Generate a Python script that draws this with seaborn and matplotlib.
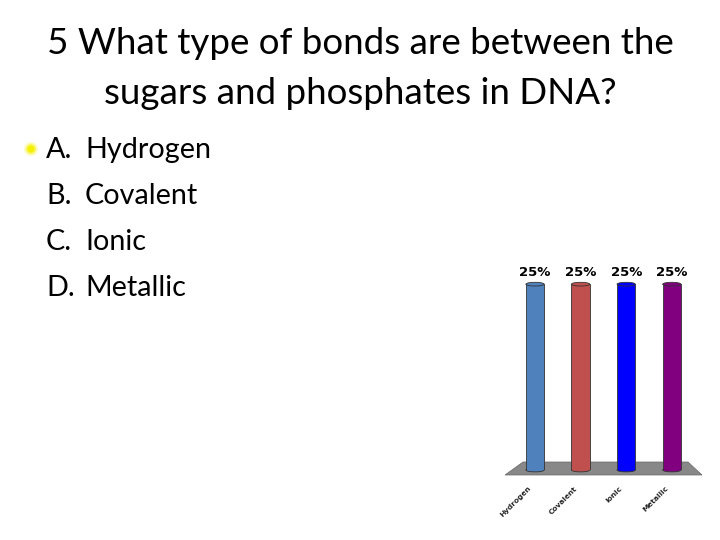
import matplotlib
matplotlib.use("Agg")
import matplotlib.pyplot as plt
import matplotlib.transforms as mtransforms
import seaborn as sns
import pandas as pd
from matplotlib.patches import Polygon, Ellipse

# ---- data ----
categories = ["Hydrogen", "Covalent", "Ionic", "Metallic"]
percentages = [25, 25, 25, 25]
bar_colors = ["#4F81BD", "#C0504D", "#0000FF", "#800080"]
title_lines = ["5 What type of bonds are between the", "sugars and phosphates in DNA?"]
option_letters = ["A.", "B.", "C.", "D."]
option_texts = ["Hydrogen", "Covalent", "Ionic", "Metallic"]

sns.set_theme(style="white")
plt.rcParams["font.family"] = ["Lato", "DejaVu Sans"]

W, H = 720, 540
fig = plt.figure(figsize=(7.2, 5.4), dpi=100)
fig.patch.set_facecolor("white")

def fx(px):
    return px / W

def fy(py):
    return 1 - py / H

# title
fig.text(fx(360), fy(44), title_lines[0], ha="center", va="center", fontsize=26.5, color="black")
fig.text(fx(360), fy(93), title_lines[1], ha="center", va="center", fontsize=26.5, color="black")

# options
row_y = [150, 196, 242, 288]
for i, (l, t) in enumerate(zip(option_letters, option_texts)):
    fig.text(fx(46), fy(row_y[i]), l, ha="left", va="center", fontsize=20.7, color="black")
    fig.text(fx(85), fy(row_y[i]), t, ha="left", va="center", fontsize=20.7, color="black")

# bullet glow
for r, a in [(7, 0.25), (5, 0.5), (3.5, 1.0)]:
    fig.patches.append(Ellipse((fx(31), fy(149)), width=2 * r / W, height=2 * r / H,
                               transform=fig.transFigure, facecolor="#F5F000", edgecolor="none",
                               alpha=a, figure=fig))

# chart axes
ax_left, ax_right = 490, 716
ax_bottom, ax_top = 470, 247
ax = fig.add_axes([fx(ax_left), fy(ax_bottom), (ax_right - ax_left) / W, (ax_bottom - ax_top) / H])
px_per_x = 45.6
px_per_y = (470 - 284) / 25.0

df = pd.DataFrame({"category": categories, "pct": percentages})
sns.barplot(data=df, x="category", y="pct", hue="category", palette=bar_colors, saturation=1,
            width=0.4, legend=False, ax=ax, edgecolor="#333333", linewidth=0.6, zorder=3)
ax.set_xlim(-(535 - ax_left) / px_per_x, (ax_right - 535) / px_per_x)
ax.set_ylim(0, 30)

# floor
def dx(px):
    return (px - 535) / px_per_x

def dy(py):
    return (470 - py) / px_per_y

floor = Polygon([(dx(523), dy(462)), (dx(688), dy(462)), (dx(702), dy(475)), (dx(505), dy(475))],
                closed=True, facecolor="#888888", edgecolor="#666666", linewidth=0.5,
                clip_on=False, zorder=1)
ax.add_patch(floor)

# cylinder caps
for i, (v, c) in enumerate(zip(percentages, bar_colors)):
    ax.add_patch(Ellipse((i, v), width=0.4, height=0.5, facecolor=c, edgecolor="#333333",
                         linewidth=0.6, zorder=4, clip_on=False))
    ax.add_patch(Ellipse((i, 0), width=0.4, height=0.5, facecolor=c, edgecolor="#333333",
                         linewidth=0.6, zorder=2.9, clip_on=False))

for cont in ax.containers:
    ax.bar_label(cont, labels=[f"{int(v)}%" for v in cont.datavalues], padding=3.5,
                 fontsize=9.5, fontweight="bold", family="DejaVu Sans", color="black")

ax.set_xlabel("")
ax.set_ylabel("")
ax.set_yticks([])
ax.set_xticks(range(len(categories)))
ax.set_xticklabels(categories, rotation=45, ha="right", rotation_mode="anchor",
                   fontsize=5.3, fontweight="bold", family="DejaVu Sans")
ax.tick_params(axis="x", length=0, pad=11)
offset = mtransforms.ScaledTranslation(-7 / 100, 0, fig.dpi_scale_trans)
for lab in ax.get_xticklabels():
    lab.set_transform(lab.get_transform() + offset)
for s in ax.spines.values():
    s.set_visible(False)
ax.patch.set_alpha(0)

fig.savefig("out.png", dpi=100, facecolor="white")
